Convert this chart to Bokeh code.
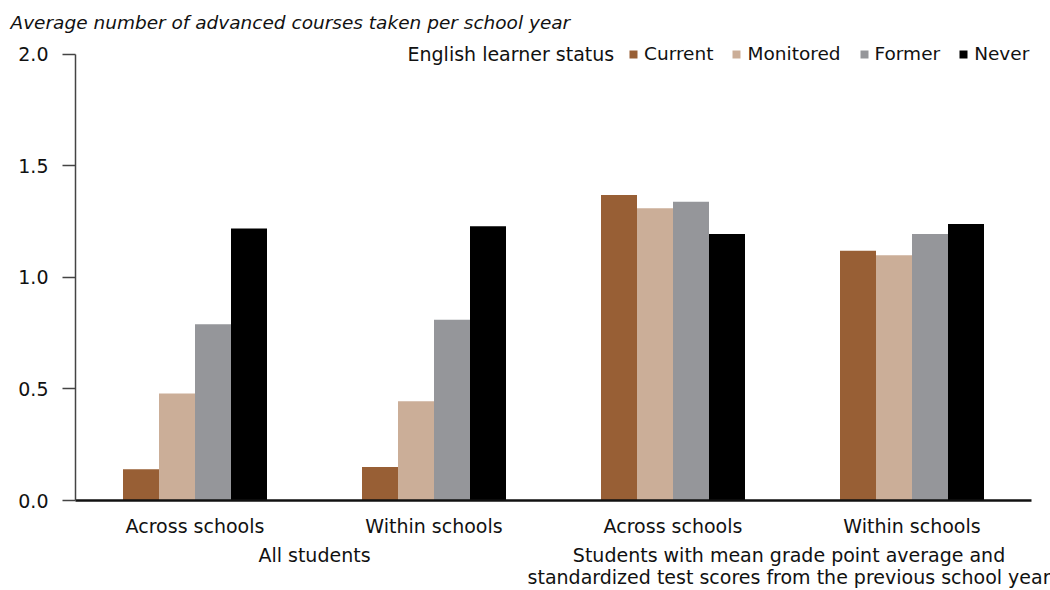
from bokeh.plotting import figure
from bokeh.models import (ColumnDataSource, Legend, LegendItem, Label, FixedTicker,
                          Range1d, LinearAxis)
from bokeh.transform import dodge
from bokeh.embed import file_html
from bokeh.resources import INLINE

# ---- data ----
subgroups = ["Across schools", "Within schools", "Across schools", "Within schools"]
groups = ["All students",
          "Students with mean grade point average and\nstandardized test scores from the previous school year"]
statuses = ["Current", "Monitored", "Former", "Never"]
current = [0.14, 0.15, 1.37, 1.12]
monitored = [0.48, 0.445, 1.31, 1.10]
former = [0.79, 0.81, 1.34, 1.195]
never = [1.22, 1.23, 1.195, 1.24]
y_ticks = [0.0, 0.5, 1.0, 1.5, 2.0]
y_title = "Average number of advanced courses taken per school year"
legend_title = "English learner status"

colors = ["#985F35", "#CBAE98", "#95969A", "#000000"]
FONT = "DejaVu Sans"
FS = "19px"
TXT = "#111111"

xpos = [i + 0.5 for i in range(len(subgroups))]
group_pos = [1.0, 3.0]
src = ColumnDataSource(dict(x=xpos, Current=current, Monitored=monitored,
                            Former=former, Never=never))

p = figure(width=1050, height=590, output_backend="svg", toolbar_location=None,
           x_range=Range1d(0, 4), y_range=Range1d(0, 2.0806),
           min_border_left=75, min_border_right=19, min_border_top=36,
           min_border_bottom=89)
p.outline_line_color = None
p.grid.grid_line_color = None

# title
p.title.text = y_title
p.title.align = "left"
p.title.offset = -65
p.title.text_font = FONT
p.title.text_font_size = "18.5px"
p.title.text_font_style = "italic"
p.title.text_color = TXT
p.title.standoff = 7

bw = 36 / 239
renderers = []
for i, (s, c) in enumerate(zip(statuses, colors)):
    off = (i - 1.5) * bw
    r = p.vbar(x=dodge("x", off, range=p.x_range), top=s, width=bw, bottom=0,
               source=src, fill_color=c, line_color=None)
    renderers.append(r)

# y axis
p.yaxis.bounds = (0, 2.0)
p.yaxis.ticker = FixedTicker(ticks=y_ticks)
p.yaxis.major_label_overrides = {t: f"{t:.1f}" for t in y_ticks}
p.yaxis.major_tick_in = 0
p.yaxis.major_tick_out = 13
p.yaxis.minor_tick_line_color = None
p.yaxis.major_label_standoff = 14
p.yaxis.axis_line_color = "#444444"
p.yaxis.axis_line_width = 1.5
p.yaxis.major_tick_line_color = "#444444"
p.yaxis.major_tick_line_width = 1.5
p.yaxis.major_label_text_font = FONT
p.yaxis.major_label_text_font_size = FS
p.yaxis.major_label_text_color = TXT

# x axis (subgroups)
p.xaxis.ticker = FixedTicker(ticks=xpos)
p.xaxis.major_label_overrides = {x: s for x, s in zip(xpos, subgroups)}
p.xaxis.major_tick_line_color = None
p.xaxis.minor_tick_line_color = None
p.xaxis.major_tick_in = 0
p.xaxis.major_tick_out = 0
p.xaxis.major_label_standoff = 14
p.xaxis.axis_line_color = "#111111"
p.xaxis.axis_line_width = 2.5
p.xaxis.major_label_text_font = FONT
p.xaxis.major_label_text_font_size = FS
p.xaxis.major_label_text_color = TXT

# second x axis (groups)
ax2 = LinearAxis(ticker=FixedTicker(ticks=group_pos),
                 major_label_overrides={x: g for x, g in zip(group_pos, groups)},
                 axis_line_color=None, major_tick_line_color=None,
                 minor_tick_line_color=None, major_tick_in=0, major_tick_out=0,
                 major_label_standoff=4, major_label_text_font=FONT,
                 major_label_text_font_size=FS, major_label_text_color=TXT,
                 major_label_text_line_height=1.0)
p.add_layout(ax2, "below")

# legend
lt = Label(x=332, y=446.7, x_units="screen", y_units="screen", text=legend_title,
           text_align="left", text_baseline="middle", text_font=FONT,
           text_font_size=FS, text_color=TXT)
p.add_layout(lt)
legend = Legend(items=[LegendItem(label=s, renderers=[r]) for s, r in zip(statuses, renderers)],
                orientation="horizontal", location=(553, 435.7),
                glyph_width=10, glyph_height=10, label_standoff=6, spacing=18,
                padding=0, margin=0, border_line_color=None,
                background_fill_alpha=0, label_text_font=FONT,
                label_text_font_size="18.5px", label_text_color=TXT)
p.add_layout(legend)

open("out.html", "w").write(file_html(p, INLINE))
